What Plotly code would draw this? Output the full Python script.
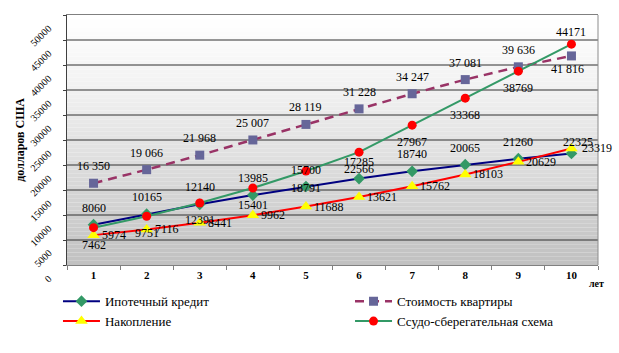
import plotly.graph_objects as go

# ---- data ----
years = ["1", "2", "3", "4", "5", "6", "7", "8", "9", "10"]
y_ticks = [0, 5000, 10000, 15000, 20000, 25000, 30000, 35000, 40000, 45000, 50000]
y_tick_text = ["0", "5000", "10000", "15000", "20000", "25000", "30000", "35000",
               "40000", "45000", "50000"]
mortgage = [8060, 10165, 12140, 13985, 15700, 17285, 18740, 20065, 21260, 22325]
apartment = [16350, 19066, 21968, 25007, 28119, 31228, 34247, 37081, 39636, 41816]
savings = [5974, 7116, 8441, 9962, 11688, 13621, 15762, 18103, 20629, 23319]
loan_savings = [7462, 9751, 12391, 15401, 18791, 22566, 27967, 33368, 38769, 44171]

names = ["Ипотечный кредит", "Стоимость квартиры", "Накопление", "Ссудо-сберегательная схема"]

SERIF = "Liberation Serif"

fig = go.Figure()

fig.add_trace(go.Scatter(
    x=years, y=mortgage, name=names[0], mode="lines+markers", legend="legend",
    line=dict(color="#000080", width=2),
    marker=dict(symbol="diamond", size=9, color="#339966", line=dict(width=0))))
fig.add_trace(go.Scatter(
    x=years, y=savings, name=names[2], mode="lines+markers", legend="legend",
    line=dict(color="#FF0000", width=2),
    marker=dict(symbol="triangle-up", size=11, color="#FFFF00", line=dict(width=0))))
fig.add_trace(go.Scatter(
    x=years, y=apartment, name=names[1], mode="lines+markers", legend="legend2",
    line=dict(color="#993366", width=2.5, dash="9px,6px"),
    marker=dict(symbol="square", size=9, color="#666699", line=dict(width=0))))
fig.add_trace(go.Scatter(
    x=years, y=loan_savings, name=names[3], mode="lines+markers", legend="legend2",
    line=dict(color="#339966", width=2),
    marker=dict(symbol="circle", size=9, color="#FF0000", line=dict(width=0))))


def fmt_space(v):
    return f"{v:,}".replace(",", " ")


annotations = []
n = len(years)
for i in range(n):
    last = i == n - 1
    # category axis: annotation x given as category index
    annotations.append(dict(x=i, y=mortgage[i], text=str(mortgage[i]),
                            yshift=(11 if last else 17), xshift=(7 if last else 0)))
    annotations.append(dict(x=i, y=apartment[i], text=fmt_space(apartment[i]),
                            yshift=(-13 if last else 17), xshift=(-4 if last else 0)))
    annotations.append(dict(x=i, y=loan_savings[i], text=str(loan_savings[i]),
                            yshift=(12 if last else -17)))
    annotations.append(dict(x=i, y=savings[i], text=str(savings[i]),
                            xanchor="left", xshift=(9 if last else 6), yshift=0))

for a in annotations:
    a.update(showarrow=False, font=dict(family=SERIF, size=12, color="black"),
             yanchor="middle")
    a.setdefault("xanchor", "center")

# rotated y tick labels (Excel-style: anchored at their end, below the tick)
for v, t in zip(y_ticks, y_tick_text):
    annotations.append(dict(x=0, xref="paper", y=v, yref="y", text=t, textangle=-45,
                            xanchor="right", yanchor="top", xshift=-12, yshift=-6,
                            showarrow=False, borderpad=0,
                            font=dict(family=SERIF, size=10, color="black")))

annotations.append(dict(text="<b>долларов США</b>", xref="paper", yref="paper",
                        x=-0.089, y=0.5, xanchor="center", yanchor="middle",
                        textangle=-90, showarrow=False,
                        font=dict(family=SERIF, size=12, color="black")))
annotations.append(dict(text="<b>лет</b>", xref="paper", yref="paper",
                        x=0.998, y=-0.075, xanchor="center", yanchor="middle",
                        showarrow=False,
                        font=dict(family=SERIF, size=10, color="black")))

# gradient background bands
shapes = []
nb = 60
for k in range(nb):
    t = (k + 0.5) / nb
    f = (1 - t) ** 1.2
    c = int(round(255 - f * (255 - 192)))
    shapes.append(dict(type="rect", xref="x domain", yref="y domain",
                       x0=0, x1=1, y0=k / nb, y1=(k + 1) / nb,
                       fillcolor=f"rgb({c},{c},{c})", line=dict(width=0), layer="below"))
for v in y_ticks[1:-1]:
    shapes.append(dict(type="line", xref="x domain", yref="y", x0=0, x1=1, y0=v, y1=v,
                       line=dict(color="#303030", width=1), layer="below"))
shapes.append(dict(type="line", xref="x domain", yref="y domain", x0=1, x1=1, y0=0, y1=1,
                   line=dict(color="#8c8c8c", width=1), layer="above"))

legend_common = dict(orientation="v", xanchor="left", yanchor="top", y=-0.085,
                     font=dict(family=SERIF, size=13, color="black"),
                     bgcolor="rgba(0,0,0,0)", borderwidth=0, itemwidth=37)

fig.update_layout(
    width=619, height=353,
    margin=dict(l=67, r=21, t=15, b=88),
    paper_bgcolor="white", plot_bgcolor="white",
    font=dict(family=SERIF, color="black"),
    showlegend=True,
    legend=dict(x=-0.017, **legend_common),
    legend2=dict(x=0.533, **legend_common),
    annotations=annotations,
    shapes=shapes,
    xaxis=dict(type="category", range=[-0.5, 9.5], autorange=False,
               tickson="boundaries", ticks="outside", ticklen=4,
               tickcolor="#808080", showline=True, linecolor="#808080", linewidth=1,
               mirror=True, showgrid=False, zeroline=False,
               tickfont=dict(family=SERIF, size=11, color="black", weight="bold")),
    yaxis=dict(range=[0, 50000], autorange=False, tickvals=y_ticks,
               showticklabels=False,
               ticks="outside", ticklen=3, tickcolor="#404040",
               showline=True, linecolor="#404040", linewidth=1,
               showgrid=False, zeroline=False),
)

fig.write_html("out.html")
